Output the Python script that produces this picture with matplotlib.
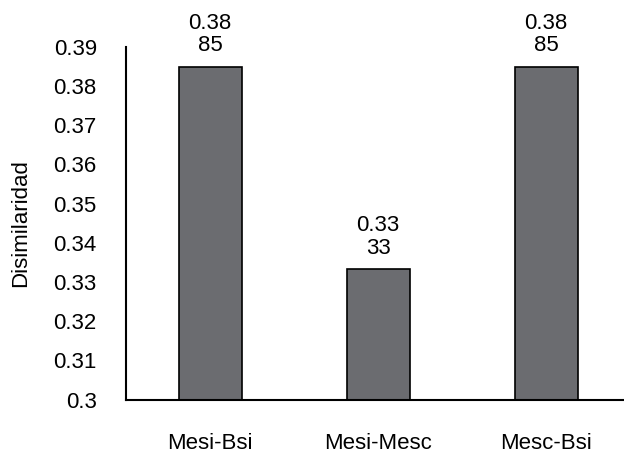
import matplotlib.pyplot as plt
import numpy as np

plt.rcParams['font.family'] = ['Liberation Sans', 'DejaVu Sans']

categorias = ["Mesi-Bsi", "Mesi-Mesc", "Mesc-Bsi"]
disimilaridad = [0.385, 0.3333, 0.385]
etiquetas = ["0.38\n85", "0.33\n33", "0.38\n85"]

fig = plt.figure(figsize=(6.24, 4.54), dpi=100)
ax = fig.add_axes([126/624, 54.5/454, 504/624, 352.5/454])

x = np.arange(len(categorias))
bars = ax.bar(x, disimilaridad, width=0.375, color="#6b6c70",
              edgecolor="black", linewidth=1.2)

# etiquetas partidas en dos lineas como en el original
for b, v, t in zip(bars, disimilaridad, etiquetas):
    ax.annotate(t, (b.get_x() + b.get_width()/2, v),
                xytext=(0, 7.5), textcoords="offset points",
                ha="center", va="bottom", fontsize=16, linespacing=1.1)

ax.set_xlim(-0.5, 2.5)
ax.set_ylim(0.3, 0.39)
ax.set_yticks(np.arange(0.30, 0.3901, 0.01))
ax.set_yticklabels(["0.3"] + ["%.2f" % t for t in np.arange(0.31, 0.3901, 0.01)])
ax.set_xticks(x)
ax.set_xticklabels(categorias)
ax.tick_params(axis="y", length=0, pad=21, labelsize=16)
ax.tick_params(axis="x", length=0, pad=24, labelsize=16)
ax.set_ylabel("Disimilaridad", fontsize=16, labelpad=16)

for sp in ["top", "right"]:
    ax.spines[sp].set_visible(False)
ax.spines["left"].set_linewidth(1.5)
ax.spines["bottom"].set_linewidth(1.5)

fig.savefig("out.png", dpi=100)
